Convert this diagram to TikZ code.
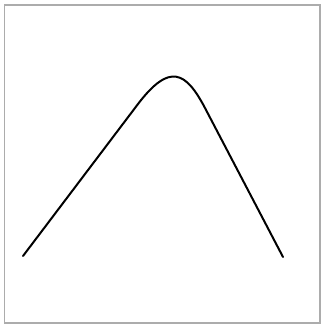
\documentclass[tikz,border=0pt]{standalone}
\usetikzlibrary{positioning}

\begin{document}
\begin{tikzpicture}[
  x=1pt, y=-1pt,
  frame/.style={draw=gray!65,line width=1.6pt},
  peakline/.style={draw=black,line width=2pt,line cap=round,line join=round}
]
\useasboundingbox (0,0) rectangle (322,326);
\fill[white] (0,0) rectangle (322,326);
\draw[frame] (4.5,5) rectangle (320,323);
\coordinate (start) at (23,256);
\coordinate (upL) at (138,104);
\coordinate (upR) at (205,108);
\coordinate (stop) at (283,257);
\draw[peakline] (start) -- (upL) .. controls (170,62) and (186,72) .. (upR) -- (stop);
\end{tikzpicture}
\end{document}
